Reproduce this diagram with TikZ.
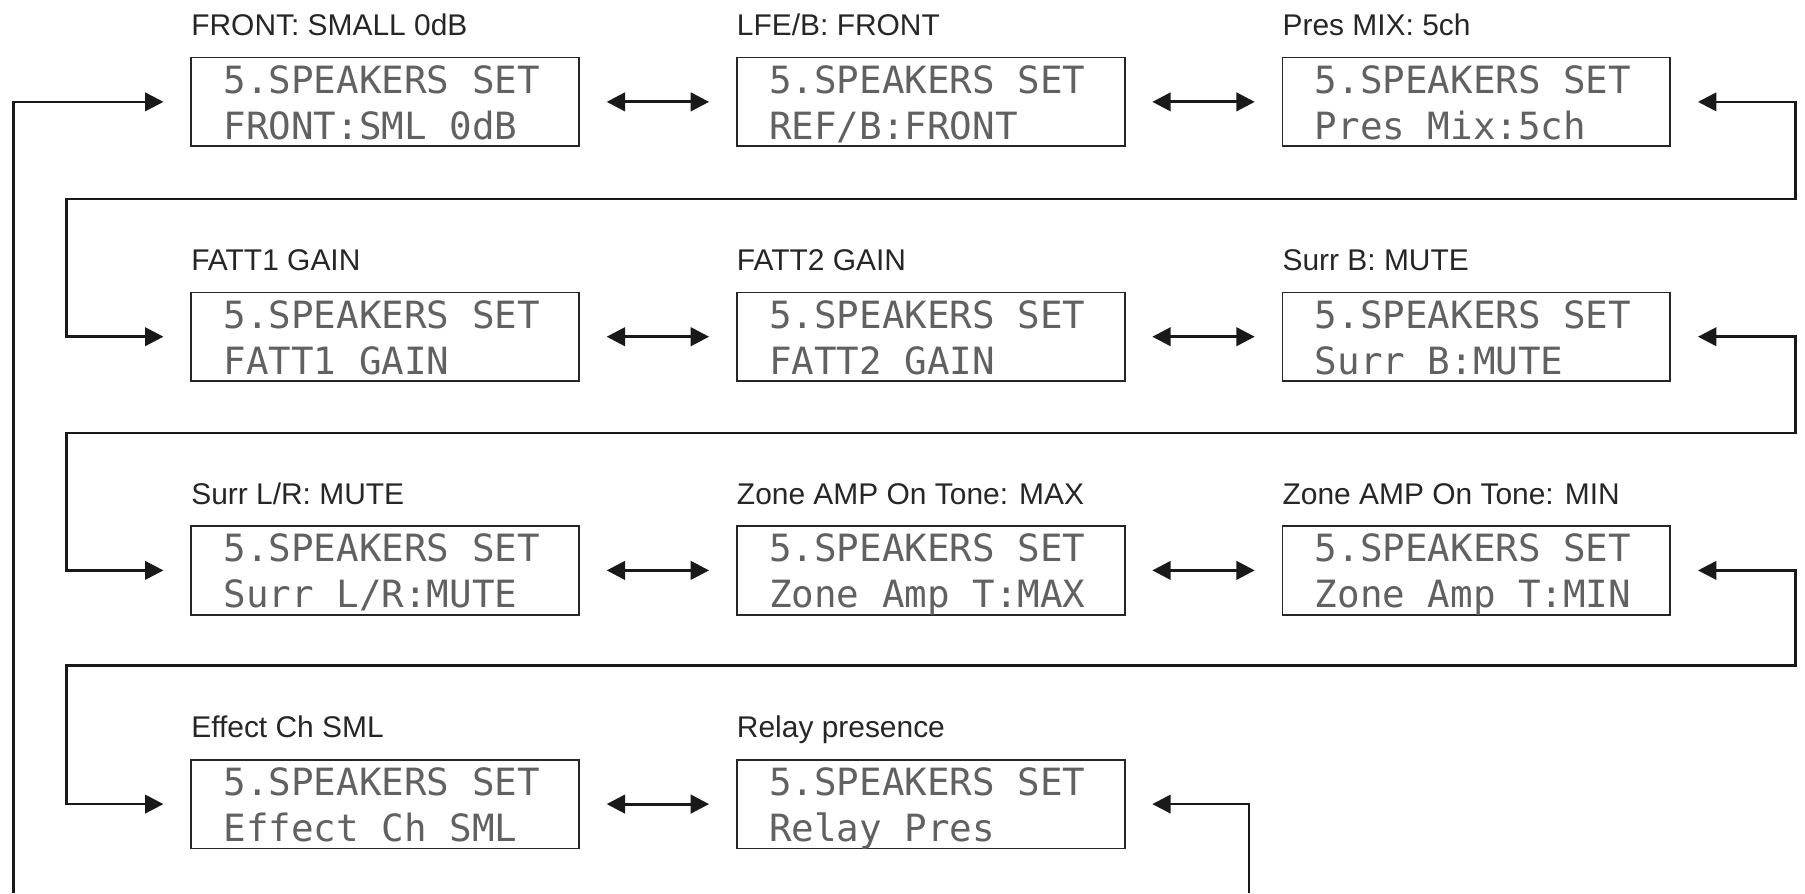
\documentclass[tikz,border=0pt]{standalone}
\usepackage{fontspec}
\setmainfont{Liberation Sans}
\newfontfamily\lcdfont{DejaVu Sans Mono}
\usetikzlibrary{arrows.meta}
\tikzset{
  panelbox/.style={draw=black!85, line width=1.5pt, rectangle, anchor=north west,
    minimum width=337pt, minimum height=77pt, inner sep=0pt, outer sep=0pt},
  ttl/.style={anchor=base west, inner sep=0pt, font=\fontsize{26}{30}\selectfont, text=black!85},
  lcd/.style={anchor=base west, inner sep=0pt, font=\lcdfont\fontsize{32.6}{37}\selectfont, text=black!62},
  conn/.style={line width=2.3pt, draw=black!90, -{Triangle[length=16pt,width=16pt]}},
  dbl/.style={line width=2.6pt, draw=black!90, {Triangle[length=16pt,width=16pt]}-{Triangle[length=16pt,width=16pt]},
    shorten <=24pt, shorten >=24pt},
}
\newcommand\panelat[5]{%
  \node[panelbox] (#1) at (#2,#3) {};
  \node[ttl] (#1t) at (#2,{#3-19}) {#4};
  \node[lcd] (#1a) at ({#2+28},{#3+31}) {5.SPEAKERS SET};
  \node[lcd] (#1b) at ({#2+28},{#3+71}) {#5};
}
\begin{document}
\begin{tikzpicture}[x=1pt,y=-1pt]
\useasboundingbox[fill=white] (0,0) rectangle (1568,776);
\panelat{n1}{166}{50}{FRONT: SMALL 0dB}{FRONT:SML 0dB}
\panelat{n2}{640}{50}{LFE/B: FRONT}{REF/B:FRONT}
\panelat{n3}{1114}{50}{Pres MIX: 5ch}{Pres Mix:5ch}
\panelat{n4}{166}{254}{FATT1 GAIN}{FATT1 GAIN}
\panelat{n5}{640}{254}{FATT2 GAIN}{FATT2 GAIN}
\panelat{n6}{1114}{254}{Surr B: MUTE}{Surr B:MUTE}
\panelat{n7}{166}{457}{Surr L/R: MUTE}{Surr L/R:MUTE}
\panelat{n8}{640}{457}{Zone AMP On Tone: MAX}{Zone Amp T:MAX}
\panelat{n9}{1114}{457}{Zone AMP On Tone: MIN}{Zone Amp T:MIN}
\panelat{n10}{166}{660}{Effect Ch SML}{Effect Ch SML}
\panelat{n11}{640}{660}{Relay presence}{Relay Pres}

\draw[dbl] (n1.east) -- (n2.west);
\draw[dbl] (n2.east) -- (n3.west);
\draw[dbl] (n4.east) -- (n5.west);
\draw[dbl] (n5.east) -- (n6.west);
\draw[dbl] (n7.east) -- (n8.west);
\draw[dbl] (n8.east) -- (n9.west);
\draw[dbl] (n10.east) -- (n11.west);

\coordinate (r1) at (1560,173);
\coordinate (l1) at (58,173);
\coordinate (r2) at (1560,376);
\coordinate (l2) at (58,376);
\coordinate (r3) at (1560,578);
\coordinate (l3) at (58,578);
\coordinate (b1) at (12,776);
\coordinate (b2) at (1085,776);

\draw[conn, {Triangle[length=16pt,width=16pt]}-{Triangle[length=16pt,width=16pt]}, shorten <=24pt, shorten >=24pt]
  (n3.east) -| (r1) -- (l1) |- (n4.west);
\draw[conn, {Triangle[length=16pt,width=16pt]}-{Triangle[length=16pt,width=16pt]}, shorten <=24pt, shorten >=24pt]
  (n6.east) -| (r2) -- (l2) |- (n7.west);
\draw[conn, {Triangle[length=16pt,width=16pt]}-{Triangle[length=16pt,width=16pt]}, shorten <=24pt, shorten >=24pt]
  (n9.east) -| (r3) -- (l3) |- (n10.west);
\draw[conn, shorten >=24pt] (b1) |- (n1.west);
\draw[conn, shorten >=24pt] (b2) |- (n11.east);
\end{tikzpicture}
\end{document}
